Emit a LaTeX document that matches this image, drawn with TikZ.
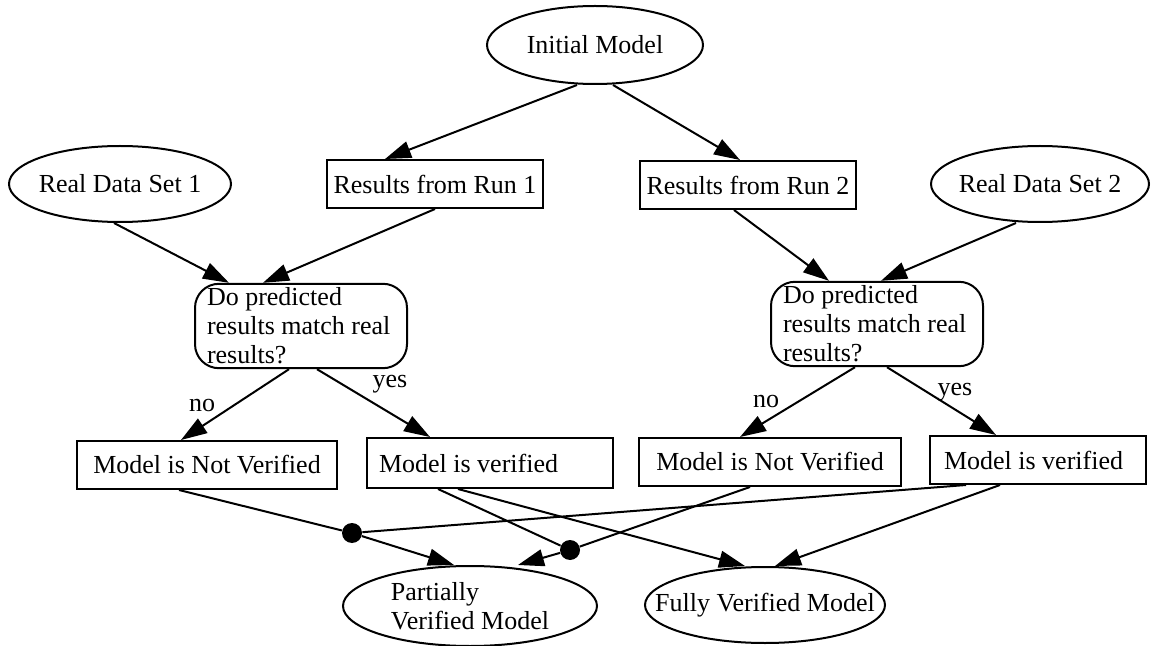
\documentclass[tikz,border=0pt]{standalone}
\usepackage{fontspec}
\setmainfont{Liberation Serif}
\usetikzlibrary{shapes.geometric,arrows.meta}

\begin{document}
\begin{tikzpicture}[x=0.5pt,y=-0.5pt]
	%defines
	\tikzstyle{every node} = [font=\fontsize{13pt}{14.5pt}\selectfont]
	\tikzstyle{oval} = [ellipse, draw=black, line width=1pt, inner sep=0pt]
	\tikzstyle{result} = [rectangle, draw=black, line width=1pt, minimum height=24pt, text centered]
	\tikzstyle{check} = [rectangle, rounded corners=12pt, draw=black, line width=1pt, text width=94pt, align=flush left, inner xsep=6pt, inner ysep=2pt]
	\tikzstyle{joint} = [circle, fill=black, inner sep=0pt, minimum size=10pt]
	\tikzstyle{arrow} = [line width=1pt, -{Triangle[length=13pt,width=8.5pt]}]
	\tikzstyle{line} = [line width=1pt]
	\useasboundingbox (0,0) rectangle (1151,646);
	%chart
	\node (init) [oval, minimum width=108pt, minimum height=39pt, label=center:Initial Model] at (595,45) {};
	\node (rds1) [oval, minimum width=111pt, minimum height=38pt, label=center:Real Data Set 1] at (120,184) {};
	\node (run1) [result, minimum width=105pt] at (435,184) {Results from Run 1};
	\node (run2) [result, minimum width=104pt] at (748,185) {Results from Run 2};
	\node (rds2) [oval, minimum width=109pt, minimum height=38pt, label=center:Real Data Set 2] at (1040,184) {};
	\node (dec1) [check] at (301,326) {Do predicted\\results match real\\results?};
	\node (dec2) [check] at (877,324) {Do predicted\\results match real\\results?};
	\node (nv1) [result, minimum width=130pt] at (207,465) {Model is Not Verified};
	\node (v1) [result, text width=111pt, align=flush left, inner xsep=6pt, minimum height=25pt] at (490,463) {Model is verified};
	\node (nv2) [result, minimum width=131pt] at (770,462) {Model is Not Verified};
	\node (v2) [result, text width=94pt, align=flush left, inner xsep=7pt] at (1038,460) {Model is verified};
	\node (d1) [joint] at (352,533) {};
	\node (d2) [joint] at (570,550) {};
	\node (part) [oval, minimum width=127pt, minimum height=40pt, label={[align=left]center:Partially\\Verified Model}] at (470,606) {};
	\node (full) [oval, minimum width=120pt, minimum height=38pt, label=center:Fully Verified Model] at (765,605) {};
	\node (no1) at (202,406) {no};
	\node (yes1) at (390,384) {yes};
	\node (no2) at (766,402) {no};
	\node (yes2) at (955,392) {yes};
	\draw [arrow] ([xshift=-9pt]init.south) -- ([xshift=-25pt]run1.north);
	\draw [arrow] ([xshift=9pt]init.south) -- ([xshift=-4pt]run2.north);
	\draw [arrow] ([xshift=-3pt]rds1.south) -- ([xshift=-36pt]dec1.north);
	\draw [arrow] (run1.south) -- ([xshift=-19pt]dec1.north);
	\draw [arrow] ([xshift=-7pt]run2.south) -- ([xshift=-24pt]dec2.north);
	\draw [arrow] ([xshift=-12pt]rds2.south) -- ([xshift=2pt]dec2.north);
	\draw [arrow] ([xshift=-6pt]dec1.south) -- ([xshift=-13pt]nv1.north);
	\draw [arrow] ([xshift=8pt]dec1.south) -- ([xshift=-30pt]v1.north);
	\draw [arrow] ([xshift=-11pt]dec2.south) -- ([xshift=-15pt]nv2.north);
	\draw [arrow] ([xshift=5pt]dec2.south) -- ([xshift=-21pt]v2.north);
	\draw [line] ([xshift=-14pt]nv1.south) -- (d1);
	\draw [line] ([xshift=-36pt]v2.south) -- (d1);
	\draw [arrow] (d1) -- ([xshift=-8pt]part.north);
	\draw [line] ([xshift=-10pt]nv2.south) -- (d2);
	\draw [line] ([xshift=-26pt]v1.south) -- (d2);
	\draw [arrow] (d2) -- ([xshift=24pt]part.north);
	\draw [arrow] ([xshift=-16pt]v1.south) -- ([xshift=-10pt]full.north);
	\draw [arrow] ([xshift=-19pt]v2.south) -- ([xshift=5pt]full.north);
\end{tikzpicture}
\end{document}
